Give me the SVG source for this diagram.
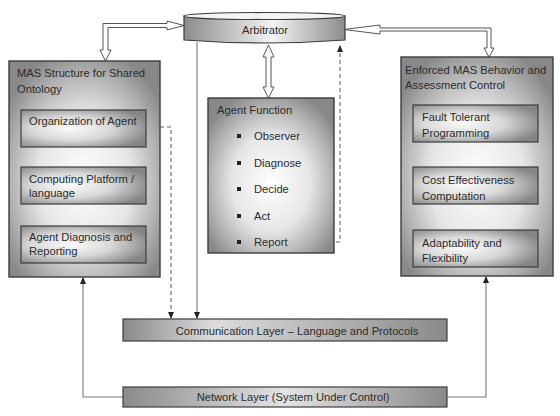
<svg xmlns="http://www.w3.org/2000/svg" width="560" height="416" viewBox="0 0 560 416">
<style>
text{font-family:"Liberation Sans",Arial,sans-serif;font-size:11.2px;fill:#2b2b2b}
.outer{fill:url(#rgOuter);stroke:#3c3c3c;stroke-width:1.4}
.inner{fill:url(#rgInner);stroke:#3c3c3c;stroke-width:1.2}
.blk{fill:#fff;stroke:#555;stroke-width:1}
.dash{fill:none;stroke:#666;stroke-width:1.1;stroke-dasharray:4 3}
.sol{fill:none;stroke:#777;stroke-width:1.1}
.bul{fill:#222}
</style>
<defs>
<radialGradient id="rgOuter" cx="0.5" cy="0.55" r="0.62">
<stop offset="0" stop-color="#ffffff"/>
<stop offset="0.5" stop-color="#e6e6e6"/>
<stop offset="0.8" stop-color="#b0b0b0"/>
<stop offset="1" stop-color="#888888"/>
</radialGradient>
<radialGradient id="rgInner" cx="0.4" cy="0.5" r="0.65">
<stop offset="0" stop-color="#fbfbfb"/>
<stop offset="0.5" stop-color="#d8d8d8"/>
<stop offset="1" stop-color="#858585"/>
</radialGradient>
<linearGradient id="lgComm" x1="0" y1="0" x2="1" y2="0">
<stop offset="0" stop-color="#8a8a8a"/>
<stop offset="0.28" stop-color="#dcdcdc"/>
<stop offset="1" stop-color="#8a8a8a"/>
</linearGradient>
<linearGradient id="lgNet" x1="0" y1="0" x2="1" y2="0">
<stop offset="0" stop-color="#8a8a8a"/>
<stop offset="0.5" stop-color="#e4e4e4"/>
<stop offset="1" stop-color="#8a8a8a"/>
</linearGradient>
<linearGradient id="lgArb" x1="0" y1="0" x2="1" y2="0">
<stop offset="0" stop-color="#8c8c8c"/>
<stop offset="0.55" stop-color="#f4f4f4"/>
<stop offset="1" stop-color="#8c8c8c"/>
</linearGradient>
<marker id="ah" markerWidth="7" markerHeight="6" refX="6" refY="3" orient="auto" markerUnits="userSpaceOnUse">
<path d="M0,0 L7,3 L0,6 Z" fill="#222"/>
</marker>
</defs>
<rect width="560" height="416" fill="#fff"/>

<g id="connectors">
<path class="blk" d="M103,23.5 L167,23.5 L167,21 L184,25.5 L167,30 L167,27.5 L108,27.5 L108,50 L111,50 L105.5,61 L100,50 L103,50 Z"/>
<path class="blk" d="M380,28 L380,25 L344,29.5 L380,34 L380,31 L487,31 L487,48 L484,48 L489,57 L494,48 L491,48 L491,28 Z"/>
<path class="blk" d="M268.5,45 L274,57 L271,57 L271,87 L274,87 L268.5,98 L263,87 L266,87 L266,57 L263,57 Z"/>
<path class="sol" d="M197,42 V318" marker-end="url(#ah)"/>
<path class="dash" d="M146,127 H171 V318" marker-end="url(#ah)"/>
<path class="dash" d="M294,242 H340 V46" marker-end="url(#ah)"/>
<path class="sol" d="M123,397 H83 V278" marker-end="url(#ah)"/>
<path class="sol" d="M447,397 H486 V277" marker-end="url(#ah)"/>
</g>

<g id="arbitrator">
<path d="M184,16 L184,40 Q264.5,46 345,40 L345,16 Z" fill="url(#lgArb)" stroke="#3c3c3c" stroke-width="1.2"/>
<ellipse cx="264.5" cy="16" rx="80.5" ry="3.5" fill="#f4f4f4" stroke="#3c3c3c" stroke-width="1.2"/>
<text x="265" y="34" text-anchor="middle">Arbitrator</text>
</g>

<g id="mas-structure">
<rect class="outer" x="9" y="61" width="151" height="216"/>
<text x="17" y="77">MAS Structure for Shared</text>
<text x="17" y="93">Ontology</text>
</g>
<g id="organization">
<rect class="inner" x="21" y="110" width="125" height="37"/>
<text x="29" y="125">Organization of Agent</text>
</g>
<g id="computing">
<rect class="inner" x="21" y="167" width="125" height="37"/>
<text x="29" y="183">Computing Platform /</text>
<text x="29" y="197">language</text>
</g>
<g id="diagnosis">
<rect class="inner" x="21" y="226" width="125" height="37"/>
<text x="29" y="241">Agent Diagnosis and</text>
<text x="29" y="255">Reporting</text>
</g>

<g id="agent-function">
<rect class="outer" x="208" y="98" width="126" height="155"/>
<text x="217" y="114">Agent Function</text>
<rect class="bul" x="237" y="134" width="4" height="4"/>
<text x="254" y="140">Observer</text>
<rect class="bul" x="237" y="161" width="4" height="4"/>
<text x="254" y="167">Diagnose</text>
<rect class="bul" x="237" y="187" width="4" height="4"/>
<text x="254" y="193">Decide</text>
<rect class="bul" x="237" y="214" width="4" height="4"/>
<text x="254" y="220">Act</text>
<rect class="bul" x="237" y="240" width="4" height="4"/>
<text x="254" y="246">Report</text>
</g>

<g id="enforced">
<rect class="outer" x="401" y="57" width="152" height="219"/>
<text x="405" y="74">Enforced MAS Behavior and</text>
<text x="405" y="89">Assessment Control</text>
</g>
<g id="fault">
<rect class="inner" x="413" y="105" width="125" height="37"/>
<text x="422" y="121">Fault Tolerant</text>
<text x="422" y="137">Programming</text>
</g>
<g id="cost">
<rect class="inner" x="413" y="167" width="125" height="37"/>
<text x="422" y="184">Cost Effectiveness</text>
<text x="422" y="200">Computation</text>
</g>
<g id="adapt">
<rect class="inner" x="413" y="230" width="125" height="37"/>
<text x="422" y="247">Adaptability and</text>
<text x="422" y="262">Flexibility</text>
</g>

<g id="communication">
<rect x="123" y="319" width="324" height="22" fill="url(#lgComm)" stroke="#3c3c3c" stroke-width="1.2"/>
<text x="297" y="335" text-anchor="middle">Communication Layer – Language and Protocols</text>
</g>
<g id="network">
<rect x="123" y="387" width="324" height="20" fill="url(#lgNet)" stroke="#3c3c3c" stroke-width="1.2"/>
<text x="293" y="401" text-anchor="middle">Network Layer (System Under Control)</text>
</g>
</svg>
